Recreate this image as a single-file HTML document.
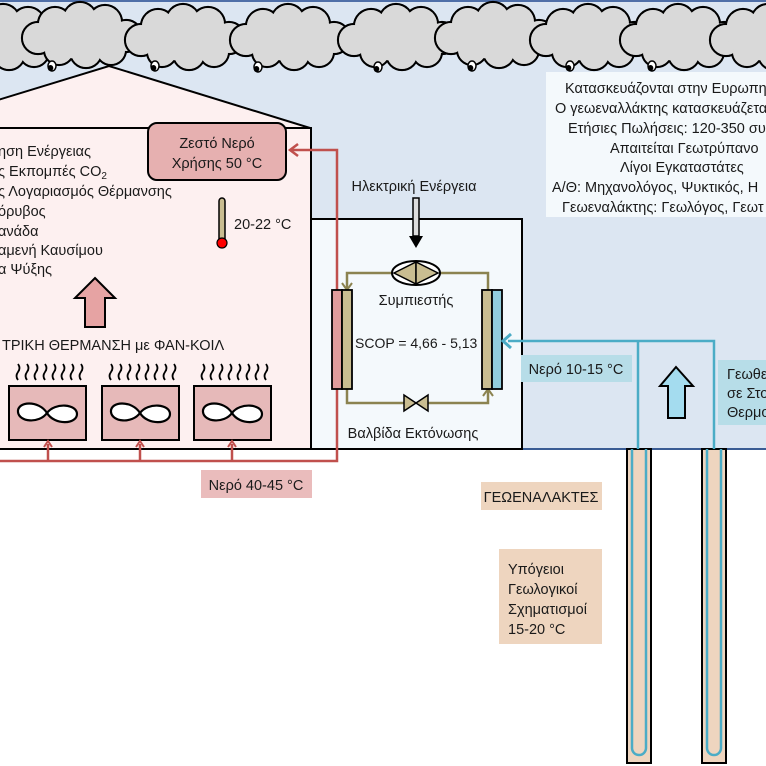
<!DOCTYPE html>
<html><head><meta charset="utf-8"><style>
html,body{margin:0;padding:0;background:#fff;}
svg{display:block;}
text{font-family:"Liberation Sans","DejaVu Sans",sans-serif;fill:#1a1a1a;}
</style></head><body>
<svg width="766" height="766" viewBox="0 0 766 766" xmlns="http://www.w3.org/2000/svg">
<defs>
<g id="cl">
 <g fill="#d9d9d9" stroke="#000" stroke-width="2.2">
  <circle cx="-44" cy="4" r="16"/><circle cx="-27" cy="-10" r="17"/><circle cx="-2" cy="-15" r="17"/><circle cx="23" cy="-12" r="17"/><circle cx="44" cy="2" r="16"/><circle cx="29" cy="16" r="15"/><circle cx="4" cy="18" r="16"/><circle cx="-23" cy="16" r="15"/>
 </g>
 <g fill="#d9d9d9">
  <circle cx="-44" cy="4" r="15"/><circle cx="-27" cy="-10" r="16"/><circle cx="-2" cy="-15" r="16"/><circle cx="23" cy="-12" r="16"/><circle cx="44" cy="2" r="15"/><circle cx="29" cy="16" r="14"/><circle cx="4" cy="18" r="15"/><circle cx="-23" cy="16" r="14"/>
  <ellipse cx="0" cy="2" rx="42" ry="23"/>
 </g>
</g>
<g id="drop"><ellipse cx="0" cy="0" rx="4" ry="5" fill="#fff" stroke="#000" stroke-width="1.5"/><ellipse cx="-1.5" cy="2" rx="2.8" ry="3" fill="#000"/></g>
<g id="fan">
 <rect x="0" y="0" width="77" height="54" fill="#e6b9b9" stroke="#000" stroke-width="2"/>
 <path d="M38 27 C30 14 8 15 9 26 C10 36 30 38 38 27 C46 16 68 18 68 28 C68 38 46 40 38 27Z" fill="#fff" stroke="#000" stroke-width="2.2"/>
 <g fill="none" stroke="#000" stroke-width="1.8">
  <path d="M9 -6 q-3 -4 0 -8 q3 -4 0 -8"/><path d="M18 -6 q-3 -4 0 -8 q3 -4 0 -8"/><path d="M27 -6 q-3 -4 0 -8 q3 -4 0 -8"/><path d="M36 -6 q-3 -4 0 -8 q3 -4 0 -8"/><path d="M45 -6 q-3 -4 0 -8 q3 -4 0 -8"/><path d="M54 -6 q-3 -4 0 -8 q3 -4 0 -8"/><path d="M63 -6 q-3 -4 0 -8 q3 -4 0 -8"/><path d="M72 -6 q-3 -4 0 -8 q3 -4 0 -8"/>
 </g>
</g>
</defs>
<rect x="0" y="0" width="766" height="449" fill="#dce6f2"/>
<line x1="0" y1="1" x2="766" y2="1" stroke="#4f6fa8" stroke-width="2"/>
<line x1="0" y1="449" x2="766" y2="449" stroke="#3a5c94" stroke-width="2"/>
<use href="#cl" x="5" y="36"/><use href="#cl" x="82" y="34"/><use href="#cl" x="185" y="36"/><use href="#cl" x="290" y="36"/><use href="#cl" x="398" y="36"/><use href="#cl" x="495" y="34"/><use href="#cl" x="590" y="36"/><use href="#cl" x="680" y="36"/><use href="#cl" x="770" y="36"/>
<use href="#drop" x="52" y="66"/><use href="#drop" x="155" y="66"/><use href="#drop" x="258" y="67"/><use href="#drop" x="378" y="67"/><use href="#drop" x="472" y="66"/><use href="#drop" x="570" y="66"/><use href="#drop" x="652" y="66"/>
<rect x="546" y="72" width="222" height="145" fill="#f4f9fc"/>
<g font-size="14.5">
<text x="565" y="93">Κατασκευάζονται στην Ευρωπη</text>
<text x="555" y="113">Ο γεωεναλλάκτης κατασκευάζεται</text>
<text x="568" y="133">Ετήσιες Πωλήσεις: 120-350 συστ</text>
<text x="610" y="153">Απαιτείται Γεωτρύπανο</text>
<text x="620" y="172">Λίγοι Εγκαταστάτες</text>
<text x="552" y="192">Α/Θ: Μηχανολόγος, Ψυκτικός, Η</text>
<text x="562" y="212">Γεωεναλάκτης: Γεωλόγος, Γεωτ</text>
</g>
<polygon points="-2,100 109,66 310,128 -2,128" fill="#fdf0f0" stroke="#000" stroke-width="2"/>
<rect x="-2" y="128" width="313" height="321" fill="#fdf0f0" stroke="#000" stroke-width="2"/>
<rect x="148" y="123" width="138" height="57" rx="9" fill="#e6b0b0" stroke="#000" stroke-width="2"/>
<text x="217" y="148" font-size="14.5" text-anchor="middle">Ζεστό Νερό</text>
<text x="217" y="168" font-size="14.5" text-anchor="middle">Χρήσης 50 °C</text>
<g font-size="14.5">
<text x="-2" y="156">ηση Ενέργειας</text>
<text x="-2" y="176">ς Εκπομπές CO<tspan font-size="10" dy="3">2</tspan></text>
<text x="-2" y="196">ς Λογαριασμός Θέρμανσης</text>
<text x="-2" y="216">όρυβος</text>
<text x="-2" y="236">ανάδα</text>
<text x="-2" y="255">αμενή Καυσίμου</text>
<text x="-2" y="274">α Ψύξης</text>
</g>
<rect x="219" y="198" width="6" height="44" rx="3" fill="#c9bd91" stroke="#000" stroke-width="1.5"/>
<circle cx="222" cy="243" r="5" fill="#f00" stroke="#000" stroke-width="1.2"/>
<text x="234" y="229" font-size="14.5">20-22 °C</text>
<polygon points="95,278 115,298 105,298 105,327 85,327 85,298 75,298" fill="#e6a3a3" stroke="#000" stroke-width="2"/>
<text x="2" y="350" font-size="14.5">ΤΡΙΚΗ ΘΕΡΜΑΝΣΗ με ΦΑΝ-ΚΟΙΛ</text>
<use href="#fan" x="9" y="386"/><use href="#fan" x="102" y="386"/><use href="#fan" x="194" y="386"/>
<rect x="311" y="219" width="211" height="230" fill="#f4f9fc" stroke="#000" stroke-width="2"/>
<text x="414" y="191" font-size="14.5" text-anchor="middle">Ηλεκτρική Ενέργεια</text>
<rect x="413" y="198" width="6" height="38" fill="#ddd" stroke="#000" stroke-width="1.5"/>
<polygon points="409,236 423,236 416,248" fill="#000"/>
<g fill="none" stroke="#8b8350" stroke-width="2.5">
<polyline points="392,273 347,273 347,290"/><polyline points="440,273 488,273 488,290"/>
<polyline points="347,389 347,403 408,403"/><polyline points="424,403 488,403 488,389"/>
</g>
<polyline points="342,283 347,290 352,283" fill="none" stroke="#8b8350" stroke-width="2"/>
<polyline points="483,396 488,389 493,396" fill="none" stroke="#8b8350" stroke-width="2"/>
<ellipse cx="416" cy="273" rx="24" ry="12" fill="#fff" stroke="#000" stroke-width="2"/>
<polygon points="394,273 416,262 416,284" fill="#c9bd91" stroke="#000" stroke-width="1.5"/>
<polygon points="438,273 416,262 416,284" fill="#c9bd91" stroke="#000" stroke-width="1.5"/>
<polygon points="404,395 404,411 416,403" fill="#c9bd91" stroke="#000" stroke-width="1.5"/>
<polygon points="428,395 428,411 416,403" fill="#c9bd91" stroke="#000" stroke-width="1.5"/>
<text x="416" y="305" font-size="14.5" text-anchor="middle">Συμπιεστής</text>
<text x="355" y="348" font-size="14">SCOP = 4,66 - 5,13</text>
<text x="413" y="438" font-size="14.5" text-anchor="middle">Βαλβίδα Εκτόνωσης</text>
<g fill="none" stroke="#c0504d" stroke-width="2.5">
<polyline points="-2,461 337,461 337,150 292,150"/>
<line x1="48" y1="461" x2="48" y2="444"/><line x1="140" y1="461" x2="140" y2="444"/><line x1="232" y1="461" x2="232" y2="444"/>
</g>
<polyline points="298,144 290,150 298,156" fill="none" stroke="#c0504d" stroke-width="2.5"/>
<g fill="none" stroke="#c0504d" stroke-width="2"><polyline points="44,447 48,441 52,447"/><polyline points="136,447 140,441 144,447"/><polyline points="228,447 232,441 236,447"/></g>
<rect x="332" y="290" width="10" height="99" fill="#e09c9c" stroke="#000" stroke-width="1.8"/>
<rect x="342" y="290" width="10" height="99" fill="#c9bd91" stroke="#000" stroke-width="1.8"/>
<rect x="482" y="290" width="10" height="99" fill="#c9bd91" stroke="#000" stroke-width="1.8"/>
<rect x="492" y="290" width="10" height="99" fill="#92cddc" stroke="#000" stroke-width="1.8"/>
<rect x="201" y="470" width="111" height="28" fill="#eabcbc"/>
<text x="256" y="490" font-size="14.5" text-anchor="middle">Νερό 40-45 °C</text>
<rect x="521" y="355" width="111" height="27" fill="#b7dde8"/>
<text x="576" y="374" font-size="14.5" text-anchor="middle">Νερό 10-15 °C</text>
<rect x="718" y="360" width="50" height="65" fill="#b7dde8"/>
<g font-size="14.5"><text x="727" y="379">Γεωθε</text><text x="727" y="398">σε Στο</text><text x="727" y="417">Θερμο</text></g>
<polygon points="676,367 693,386 685,386 685,418 668,418 668,386 660,386" fill="#a4dcef" stroke="#000" stroke-width="2"/>
<rect x="627" y="449" width="24" height="314" fill="#eed5bf" stroke="#000" stroke-width="2"/>
<rect x="702" y="449" width="24" height="314" fill="#eed5bf" stroke="#000" stroke-width="2"/>
<g fill="none" stroke="#4bacc6" stroke-width="2.5">
<polyline points="508,341 714,341 714,449"/>
<line x1="638" y1="341" x2="638" y2="449"/>
<path d="M632 449 V748 a7 7 0 0 0 14 0 V449"/>
<path d="M707 449 V748 a7 7 0 0 0 14 0 V449"/>
</g>
<polyline points="511,334 503,341 511,348" fill="none" stroke="#4bacc6" stroke-width="3"/>
<rect x="481" y="482" width="121" height="28" fill="#eed5bf"/>
<text x="541" y="502" font-size="14.5" text-anchor="middle">ΓΕΩΕΝΑΛΑΚΤΕΣ</text>
<rect x="499" y="549" width="103" height="95" fill="#eed5bf"/>
<g font-size="14.5"><text x="508" y="574">Υπόγειοι</text><text x="508" y="594">Γεωλογικοί</text><text x="508" y="614">Σχηματισμοί</text><text x="508" y="634">15-20 °C</text></g>
</svg>
</body></html>
